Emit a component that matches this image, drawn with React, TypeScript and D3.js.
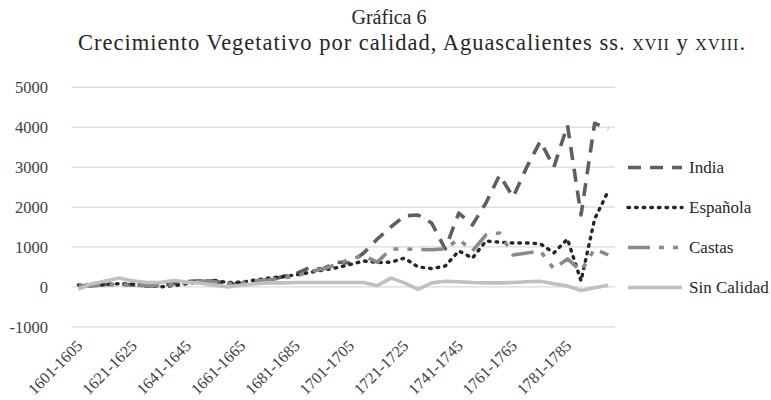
import React from "react";
import * as d3 from "d3";

const categories: string[] = [
  "1601-1605", "1606-1610", "1611-1615", "1616-1620", "1621-1625", "1626-1630", "1631-1635", "1636-1640",
  "1641-1645", "1646-1650", "1651-1655", "1656-1660", "1661-1665", "1666-1670", "1671-1675", "1676-1680",
  "1681-1685", "1686-1690", "1691-1695", "1696-1700", "1701-1705", "1706-1710", "1711-1715", "1716-1720",
  "1721-1725", "1726-1730", "1731-1735", "1736-1740", "1741-1745", "1746-1750", "1751-1755", "1756-1760",
  "1761-1765", "1766-1770", "1771-1775", "1776-1780", "1781-1785", "1786-1790", "1791-1795", "1796-1800",
];

const india: number[] = [
  30, 20, 60, 70, 50, 20, 40, 80, 130, 160, 150, 60, 90, 130, 180, 250, 330, 480, 450, 620,
  600, 850, 1200, 1500, 1780, 1800, 1600, 950, 1850, 1550, 2100, 2800, 2250, 3000, 3650, 3000, 4050, 1800, 4100, 3950,
];
const espanola: number[] = [
  50, 40, 60, 80, 70, 40, 0, 30, 80, 140, 160, 110, 120, 170, 220, 260, 300, 360, 420, 480,
  560, 650, 610, 620, 720, 500, 460, 520, 900, 720, 1150, 1120, 1100, 1100, 1080, 850, 1200, 150, 1700, 2400,
];
const castas: number[] = [
  40, 20, 60, 50, 40, 30, 30, 50, 120, 150, 130, 80, 100, 150, 170, 230, 260, 380, 450, 560,
  700, 780, 620, 950, 950, 940, 930, 950, 1200, 900, 1300, 1350, 800, 850, 900, 450, 700, 400, 950, 800,
];
const sinCalidad: number[] = [
  -60, 80, 150, 220, 150, 110, 110, 160, 120, 90, 40, 0, 40, 80, 100, 100, 110, 110, 110, 110,
  110, 110, 30, 220, 100, -60, 100, 140, 130, 110, 100, 100, 110, 130, 140, 80, 20, -90, -20, 40,
];

const yTicks: number[] = [-1000, 0, 1000, 2000, 3000, 4000, 5000];
const xLabelEvery = 4;

const seriesNames: string[] = ["India", "Española", "Castas", "Sin Calidad"];
const seriesData: number[][] = [india, espanola, castas, sinCalidad];

const styles = [
  { color: "#5f5f5f", width: 3.6, dash: "13 9", cap: "butt" },
  { color: "#262626", width: 3.4, dash: "1.6 6", cap: "round" },
  { color: "#8a8a8a", width: 3.6, dash: "22 9 5 9 5 9", cap: "butt" },
  { color: "#c0c0c0", width: 3.6, dash: "", cap: "butt" },
];

const FONT = '"Liberation Serif", serif';
const tf = { fontFamily: FONT };

export default function App() {
  const W = 771;
  const H = 400;
  const x = d3.scaleBand<string>().domain(categories).range([71.7, 615]);
  const y = d3.scaleLinear().domain([-1000, 5000]).range([326.8, 87.3]);
  const cx = (c: string) => (x(c) as number) + x.bandwidth() / 2;

  const line = d3
    .line<number>()
    .x((_, i) => cx(categories[i]))
    .y((d) => y(d))
    .curve(d3.curveLinear);

  const legendY = [167.5, 207.5, 247.5, 287.5];

  return (
    <svg width={W} height={H} style={{ position: "absolute", left: 0, top: 0, background: "#fff" }}>
      <text x={389} y={24} textAnchor="middle" fontSize={20} fill="#262626" style={tf}>Gráfica 6</text>
      <text x={411.5} y={50} textAnchor="middle" fontSize={22.5} fill="#262626" style={tf}
        textLength={667} lengthAdjust="spacing">
        Crecimiento Vegetativo por calidad, Aguascalientes ss.{" "}
        <tspan style={{ fontVariant: "small-caps" }}>xvii</tspan> y <tspan style={{ fontVariant: "small-caps" }}>xviii</tspan>.
      </text>

      {yTicks.map((t) => (
        <g key={t}>
          <line x1={71.7} x2={615} y1={y(t)} y2={y(t)} stroke="#d9d9d9" strokeWidth={1.2} />
          <text x={48} y={y(t)} dy="0.35em" textAnchor="end" fontSize={16.5} fill="#404040" style={tf}>{t}</text>
        </g>
      ))}

      {categories.map((c, i) =>
        i % xLabelEvery === 0 ? (
          <text
            key={c}
            transform={`translate(${cx(c) + 5},${y(-1000) + 20}) rotate(-45)`}
            textAnchor="end"
            fontSize={16}
            fill="#404040"
            style={tf}
          >
            {c}
          </text>
        ) : null
      )}

      {seriesData.map((s, k) => (
        <path
          key={seriesNames[k]}
          d={line(s) as string}
          fill="none"
          stroke={styles[k].color}
          strokeWidth={styles[k].width}
          strokeDasharray={styles[k].dash || undefined}
          strokeLinecap={styles[k].cap as any}
          strokeLinejoin="round"
        />
      ))}

      {seriesNames.map((n, k) => (
        <g key={n}>
          <line
            x1={628}
            x2={682}
            y1={legendY[k]}
            y2={legendY[k]}
            stroke={styles[k].color}
            strokeWidth={styles[k].width}
            strokeDasharray={styles[k].dash || undefined}
            strokeLinecap={styles[k].cap as any}
          />
          <text x={689} y={legendY[k]} dy="0.35em" fontSize={17} fill="#262626" style={tf}>{n}</text>
        </g>
      ))}
    </svg>
  );
}
